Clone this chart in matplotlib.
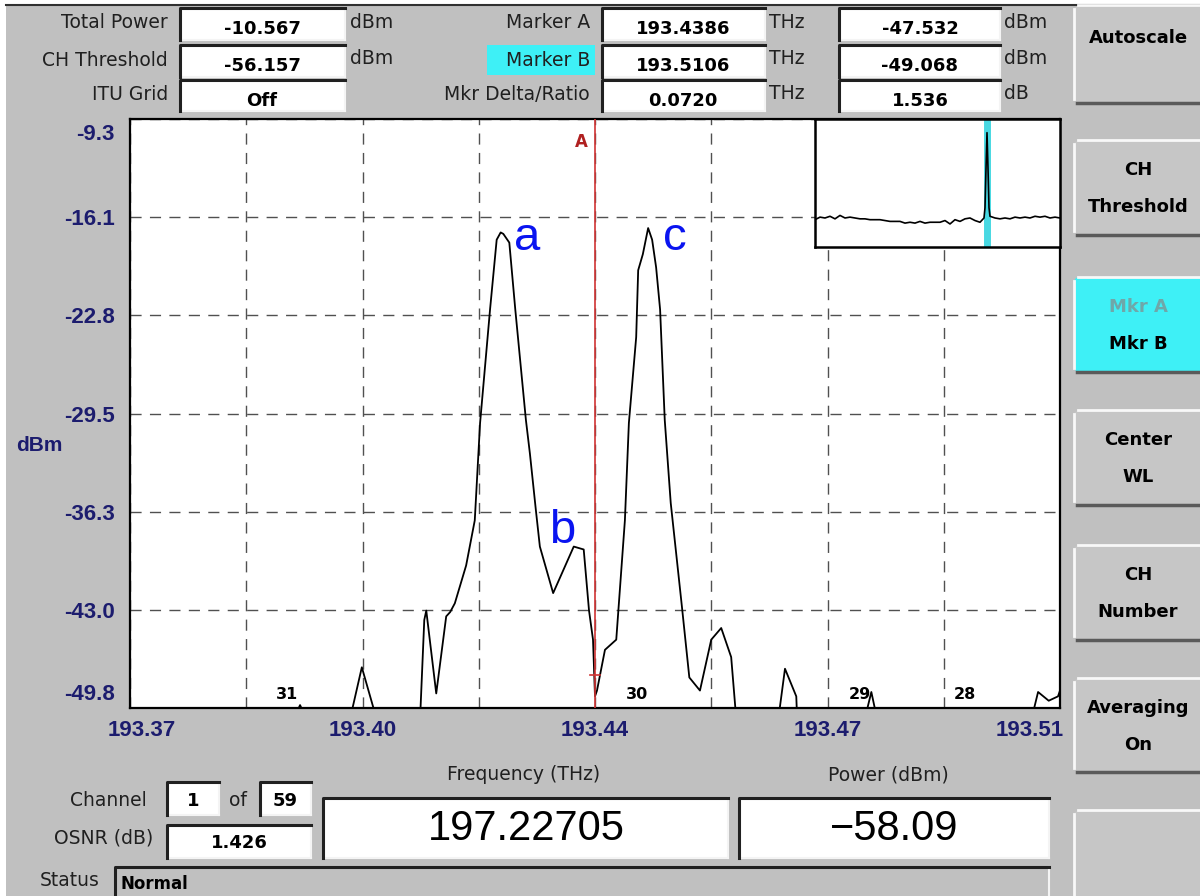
import matplotlib.pyplot as plt
from matplotlib.patches import Rectangle, FancyBboxPatch
import matplotlib.transforms as mtransforms

# spectrum trace (THz, dBm)
freq_thz = [193.37, 193.3950, 193.3956, 193.3962, 193.4033, 193.4049, 193.4069,
            193.4137, 193.4143, 193.4146, 193.4161, 193.4176, 193.4182, 193.4189,
            193.4206, 193.4219, 193.4227, 193.4242, 193.4252, 193.4258, 193.4262,
            193.4271, 193.4280, 193.4296, 193.4302, 193.4311, 193.4317, 193.4337,
            193.4368, 193.4383, 193.4391, 193.4397, 193.4400, 193.4403, 193.4415,
            193.4432, 193.4445, 193.4451, 193.4462, 193.4465, 193.4472, 193.4480,
            193.4486, 193.4492, 193.4498, 193.4505, 193.4514, 193.4531, 193.4542,
            193.4558, 193.4575, 193.4590, 193.4605, 193.4612, 193.4677, 193.4686,
            193.4703, 193.4704, 193.4808, 193.4816, 193.4823, 193.5059, 193.5067,
            193.5083, 193.5097, 193.51]
power_dbm = [-50.5, -50.2, -49.6, -50.2, -50.2, -47.0, -50.2,
             -50.2, -43.75, -43.1, -48.8, -43.5, -43.2, -42.6,
             -40.0, -36.9, -30.2, -22.4, -17.6, -17.1, -17.2,
             -17.8, -22.4, -30.0, -32.3, -36.2, -38.7, -41.9,
             -38.7, -38.9, -43.1, -45.1, -49.0, -48.6, -45.8,
             -45.1, -36.9, -30.2, -24.3, -19.7, -18.6, -16.8,
             -17.6, -19.5, -22.4, -30.0, -35.7, -42.9, -47.7,
             -48.6, -45.1, -44.3, -46.3, -50.2, -50.2, -47.1,
             -49.0, -50.2, -50.2, -48.7, -50.2, -50.2, -48.7,
             -49.3, -49.0, -48.6]

# axis grid
grid_freqs = [193.37, 193.3875, 193.405, 193.4225, 193.44, 193.4575, 193.475, 193.4925, 193.51]
freq_labels = ['193.37', '', '193.40', '', '193.44', '', '193.47', '', '193.51']
grid_levels = [-49.8, -43.05, -36.3, -29.55, -22.8, -16.05, -9.3]
level_labels = ['-49.8', '-43.0', '-36.3', '-29.5', '-22.8', '-16.1', '-9.3']

# peak annotations
peak_names = ['a', 'b', 'c']
peak_freq = [193.4298, 193.4350, 193.4520]
peak_dbm = [-17.5, -37.6, -17.5]

# channel numbers along the floor
ch_names = ['31', '30', '29', '28']
ch_freq = [193.3936, 193.4463, 193.4799, 193.4957]
ch_dbm = -48.9

# marker A
marker_a_freq = 193.44
marker_a_dbm = -47.532

# overview inset (sample index, dBm)
inset_pos = [0, 1, 2, 3, 4, 5, 6, 7, 8, 9, 10, 11, 12, 13, 14, 15, 16, 17, 18, 19,
             20, 21, 22, 23, 24, 25, 26, 27, 28, 29, 30, 31, 32, 33, 33.8, 34.0, 34.2,
             34.4, 34.6, 34.8, 35, 36, 37, 38, 39, 40, 41, 42, 43, 44, 45, 46, 47, 48, 49]
inset_dbm = [-59, -57.5, -58, -57, -58.5, -56.5, -58, -57.5, -58, -58.5, -58.5, -59,
             -59, -59, -59.5, -60, -60, -60, -61, -60.5, -61, -60, -61, -60.5, -60.5,
             -60.5, -59.5, -61.5, -59, -60, -58.5, -58, -59.5, -60.5, -58, -52, -29,
             -8, -29, -52, -57, -58, -58.5, -58, -58.5, -57.5, -58, -57.5, -58, -57,
             -57.5, -57, -58, -57.5, -58]
inset_marker = 34.4

# header readouts
left_labels = ['Total Power', 'CH Threshold', 'ITU Grid']
left_values = ['-10.567', '-56.157', 'Off']
left_units = ['dBm', 'dBm', '']
mid_labels = ['Marker A', 'Marker B', 'Mkr Delta/Ratio']
mid_values = ['193.4386', '193.5106', '0.0720']
right_values = ['-47.532', '-49.068', '1.536']
right_units = ['dBm', 'dBm', 'dB']

buttons = [['Autoscale'], ['CH', 'Threshold'], ['Mkr A', 'Mkr B'],
           ['Center', 'WL'], ['CH', 'Number'], ['Averaging', 'On'], []]

BG = '#c0c0c0'
NAVY = '#1c1c6e'
CYAN = '#3ef0f6'

fig = plt.figure(figsize=(12, 8.96), dpi=100, facecolor=BG)
W, H = 1200, 896

# screen overlay in pixel units
ui = fig.add_axes([0, 0, 1, 1], zorder=0)
ui.set_xlim(0, W)
ui.set_ylim(H, 0)
ui.axis('off')
ui.add_patch(Rectangle((0, 0), W, H, fc=BG, ec='none'))
ui.add_patch(Rectangle((0, 0), 6, H, fc='white', ec='none'))
ui.add_patch(Rectangle((0, 0), W, 4, fc='white', ec='none'))
ui.plot([6, W], [5, 5], color='#303030', lw=1.5)


def sunken(x0, y0, x1, y1, face='white'):
    ui.add_patch(Rectangle((x0, y0), x1 - x0, y1 - y0, fc=face, ec='none'))
    ui.plot([x0, x1], [y1, y1], color='#f4f4f4', lw=1.5)
    ui.plot([x1, x1], [y0, y1], color='#f4f4f4', lw=1.5)
    ui.plot([x0, x0, x1], [y1, y0, y0], color='#202020', lw=2.2)


lab = dict(family='DejaVu Sans', fontsize=13.5, color='#202020')
val = dict(family='DejaVu Sans', fontsize=13, fontweight='bold', color='black')

rows_top = [8, 45, 80]
rows_bot = [40, 77, 111]
for i in range(3):
    yt, yb = rows_top[i], rows_bot[i]
    ym = (yt + yb) / 2
    ui.text(168, ym - 1, left_labels[i], ha='right', va='center', **lab)
    sunken(180, yt, 345, yb)
    ui.text(262, ym + 5, left_values[i], ha='center', va='center', **val)
    ui.text(350, ym - 2, left_units[i], ha='left', va='center', **lab)
    if i == 1:
        ui.add_patch(Rectangle((487, yt), 108, 30, fc=CYAN, ec='none'))
    ui.text(590, ym - 1, mid_labels[i], ha='right', va='center', **lab)
    sunken(602, yt, 765, yb)
    ui.text(683, ym + 5, mid_values[i], ha='center', va='center', **val)
    ui.text(769, ym - 2, 'THz', ha='left', va='center', **lab)
    sunken(839, yt, 1000, yb)
    ui.text(920, ym + 5, right_values[i], ha='center', va='center', **val)
    ui.text(1004, ym - 2, right_units[i], ha='left', va='center', **lab)

# soft keys on the right
btn_top = [5, 140, 277, 410, 545, 678, 810]
btn_bot = [103, 235, 372, 505, 640, 772, 905]
btxt = dict(family='DejaVu Sans', fontsize=13, fontweight='bold', color='black')
for i, names in enumerate(buttons):
    y0, y1 = btn_top[i], btn_bot[i]
    face = CYAN if i == 2 else '#c6c6c6'
    ui.add_patch(FancyBboxPatch((1074, y0), 140, y1 - y0,
                                boxstyle='round,pad=0,rounding_size=6',
                                fc=face, ec='none'))
    ui.plot([1074, 1074], [y0 + 4, y1 - 4], color='#f8f8f8', lw=2)
    ui.plot([1078, W], [y0, y0], color='#f8f8f8', lw=2)
    ui.plot([1077, W], [y1, y1], color='#5a5a5a', lw=2.5)
    if len(names) == 1:
        ui.text(1138, y0 + 33, names[0], ha='center', va='center', **btxt)
    elif len(names) == 2:
        c0 = '#6fa7a9' if i == 2 else 'black'
        ui.text(1138, y0 + 30, names[0], ha='center', va='center',
                **{**btxt, 'color': c0})
        ui.text(1138, y0 + 67, names[1], ha='center', va='center', **btxt)

# bottom readouts
ui.text(147, 801, 'Channel', ha='right', va='center', **lab)
sunken(167, 782, 219, 815)
ui.text(193, 801, '1', ha='center', va='center', **val)
ui.text(238, 800, 'of', ha='center', va='center', **lab)
sunken(260, 782, 311, 815)
ui.text(285, 801, '59', ha='center', va='center', **val)
ui.text(153, 838, 'OSNR (dB)', ha='right', va='center', **lab)
sunken(167, 825, 311, 858)
ui.text(239, 843, '1.426', ha='center', va='center', **val)

ui.text(524, 775, 'Frequency (THz)', ha='center', va='center', **lab)
sunken(323, 798, 728, 858)
ui.text(526, 829, '197.22705', ha='center', va='center',
        family='Liberation Sans', fontsize=30, color='black')
ui.text(888, 775, 'Power (dBm)', ha='center', va='center', **lab)
sunken(739, 798, 1049, 858)
ui.text(894, 829, '\u221258.09', ha='center', va='center',
        family='Liberation Sans', fontsize=30, color='black')

ui.text(70, 880, 'Status', ha='center', va='center', **lab)
sunken(115, 867, 1049, 900, face=BG)
ui.text(120, 884, 'Normal', ha='left', va='center',
        family='DejaVu Sans', fontsize=12, fontweight='bold', color='black')

# main spectrum plot
ax = fig.add_axes([130 / W, 1 - 708 / H, 930 / W, 589 / H], zorder=2)
ax.set_facecolor('white')
ax.plot(freq_thz, power_dbm, color='black', lw=1.3, zorder=3)
ax.set_xlim(193.37, 193.51)
ax.set_ylim(-49.8, -9.3)
ax.set_xticks(grid_freqs)
ax.set_xticklabels(freq_labels)
ax.set_yticks(grid_levels)
ax.set_yticklabels(level_labels)
ax.grid(True, color='#505050', linestyle=(0, (8, 6)), lw=1)
for s in ax.spines.values():
    s.set_linewidth(1.6)
    s.set_color('black')
ax.tick_params(length=0, labelcolor=NAVY, pad=9)
ax.tick_params(axis='y', pad=11)
for t in ax.get_xticklabels() + ax.get_yticklabels():
    t.set_fontfamily('Liberation Sans')
    t.set_fontweight('bold')
    t.set_fontsize(16)

xl = ax.get_xticklabels()
xl[0].set_transform(xl[0].get_transform() + mtransforms.ScaledTranslation(0.12, 0, fig.dpi_scale_trans))
xl[-1].set_transform(xl[-1].get_transform() + mtransforms.ScaledTranslation(-0.30, 0, fig.dpi_scale_trans))
yl = ax.get_yticklabels()
yl[0].set_transform(yl[0].get_transform() + mtransforms.ScaledTranslation(0, 0.16, fig.dpi_scale_trans))
yl[-1].set_transform(yl[-1].get_transform() + mtransforms.ScaledTranslation(0, -0.13, fig.dpi_scale_trans))

ax.set_ylabel('dBm', rotation=0, color=NAVY, family='Liberation Sans',
              fontweight='bold', fontsize=15)
ax.yaxis.set_label_coords(-0.097, 0.43)

# marker A
ax.axvline(marker_a_freq, color='#d03434', lw=1.2, zorder=4)
ax.plot([marker_a_freq - 0.0008, marker_a_freq + 0.0008], [marker_a_dbm, marker_a_dbm],
        color='#d03434', lw=1.2, zorder=4)
ax.annotate('A', (marker_a_freq, -10.9), xytext=(-5, 0), textcoords='offset points',
            ha='right', va='center', color='#b02020', fontweight='bold',
            family='DejaVu Sans', fontsize=12)

for n, f, d in zip(peak_names, peak_freq, peak_dbm):
    ax.text(f, d, n, ha='center', va='center', color='#0a14f0',
            family='Liberation Sans', fontsize=34, zorder=5)
for n, f in zip(ch_names, ch_freq):
    ax.text(f, ch_dbm, n, ha='center', va='center', color='black',
            family='DejaVu Sans', fontweight='bold', fontsize=11.5, zorder=5)

# overview inset
ins = fig.add_axes([815 / W, 1 - 247 / H, 245 / W, 128 / H], zorder=3)
ins.set_facecolor('white')
ins.axvline(inset_marker, color='#48d8e2', lw=5, zorder=1)
ins.plot(inset_pos, inset_dbm, color='black', lw=1.2, zorder=2)
ins.set_xlim(0, 49)
ins.set_ylim(-75, 0)
ins.set_xticks([])
ins.set_yticks([])
for s in ins.spines.values():
    s.set_linewidth(1.8)
    s.set_color('black')

fig.savefig('out.png', dpi=100, facecolor=BG)
